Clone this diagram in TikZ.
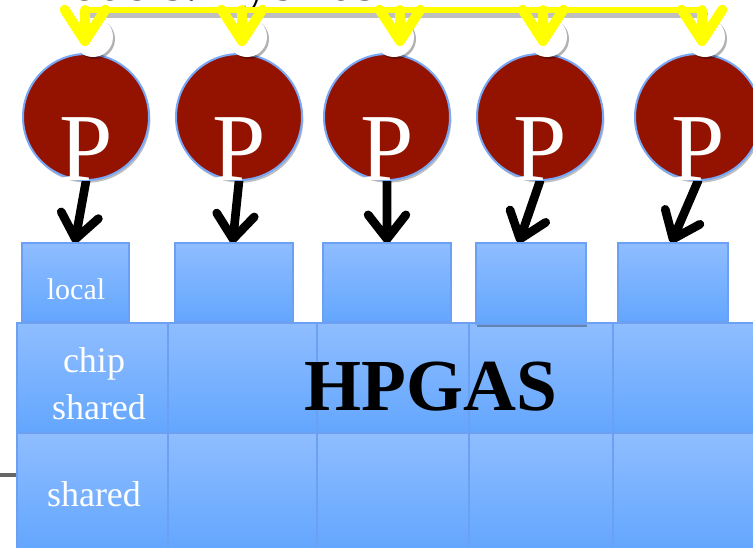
\documentclass[tikz,border=0pt]{standalone}
\usepackage{fontspec}
\setmainfont{Liberation Serif}
\usetikzlibrary{shadows,calc}
\definecolor{cellTop}{RGB}{143,189,255}
\definecolor{cellBot}{RGB}{99,166,254}
\definecolor{cellEdge}{RGB}{108,160,242}
\definecolor{procRed}{RGB}{147,18,0}
\definecolor{procEdge}{RGB}{120,168,248}
\definecolor{busYellow}{RGB}{255,255,0}
\pgfdeclarelayer{wires}
\pgfsetlayers{wires,main}
\begin{document}
\begin{tikzpicture}[x=0.75pt,y=-0.75pt,
  cell/.style={draw=cellEdge, line width=1pt, top color=cellTop, bottom color=cellBot,
    inner sep=0, outer sep=0},
  proc/.style={circle, fill=procRed, draw=procEdge, line width=1.5pt, inner sep=0,
    minimum size=126*0.75pt,
    drop shadow={shadow xshift=1pt, shadow yshift=-2pt, opacity=.25, fill=black}},
  port/.style={circle, fill=white, inner sep=0, minimum size=40*0.75pt,
    drop shadow={shadow xshift=1.5pt, shadow yshift=-1.5pt, opacity=.3, fill=black}},
  plabel/.style={anchor=base, inner sep=0, text=white, font=\fontsize{72}{72}\selectfont},
  celltext/.style={anchor=base, inner sep=0, text=white},
  memarrow/.style={draw=black, line width=6.5pt, line cap=round, line join=round},
  busline/.style={draw=busYellow, line width=5pt, line cap=round},
  busarrow/.style={draw=busYellow, line width=7.5pt, line cap=round, line join=round},
  busshadow/.style={draw=black, opacity=.25, line width=6pt, line cap=round},
]
\useasboundingbox (0,0) rectangle (753,547);
\clip (0,0) rectangle (753,547);

% heading line running off the top edge
\node[anchor=base west, inner sep=0, font=\fontsize{40}{40}\selectfont] (title) at (-28,0.8) {of models: hybrids};

% grey rule entering from the left
\coordinate (gl) at (0,475);

% shared and chip-shared rows
\foreach \n/\cx/\w in {1/92.5/151, 2/242.5/149, 3/393/152, 4/541/144, 5/686.5/147} {
  \node[cell, minimum width=\w*0.75pt, minimum height=117*0.75pt] (s\n) at (\cx,491.5) {};
  \node[cell, minimum width=\w*0.75pt, minimum height=110*0.75pt] (m\n) at (\cx,378) {};
}
\begin{pgfonlayer}{wires}
  \draw[draw=black!60, line width=2.5pt] (gl) -- (gl -| s1.west);
\end{pgfonlayer}

% local memories
\foreach \n/\cx/\w in {1/75.5/107, 2/234/118, 3/387/128, 5/673/110} {
  \node[cell, minimum width=\w*0.75pt, minimum height=79*0.75pt] (b\n) at (\cx,282.5) {};
}
\node[cell, minimum width=110*0.75pt, minimum height=81*0.75pt,
  drop shadow={shadow xshift=1pt, shadow yshift=-2pt, opacity=.3, fill=black}] (b4) at (531,283.5) {};

% labels
\node[celltext, font=\fontsize{22.5}{22.5}\selectfont] (tlocal) at (76,299) {local};
\node[celltext, font=\fontsize{27}{27}\selectfont] (tchip) at (94,372) {chip};
\node[celltext, font=\fontsize{27}{27}\selectfont] (tcshared) at (99,419) {shared};
\node[celltext, font=\fontsize{27}{27}\selectfont] (tshared) at (94,506) {shared};
\node[anchor=base, inner sep=0, font=\fontsize{55}{55}\selectfont\bfseries] (hpgas) at (431,410) {HPGAS};

% processors
\foreach \n/\cx in {1/86, 2/239, 3/387, 4/540, 5/698} {
  \node[proc] (p\n) at (\cx,117) {};
  \node[plabel] (pl\n) at (\cx,180) {P};
}

% processor to local memory, with open arrowheads
\begin{pgfonlayer}{wires}
\foreach \n/\dx in {1/0, 2/-1, 3/0, 4/-11, 5/0} {
  \coordinate (e\n) at ($(b\n.north)+(\dx,-4)$);
  \draw[memarrow] (p\n.south) -- (e\n)
    ($(e\n)!23pt!38:(p\n.south)$) -- (e\n) -- ($(e\n)!23pt!-38:(p\n.south)$);
}
\end{pgfonlayer}

% ports on top of each processor
\foreach \n/\cx in {1/93, 2/247, 3/394, 4/547, 5/705} {
  \node[port] (w\n) at (\cx,37) {};
}

% yellow bus feeding every processor
\foreach \n/\cx in {1/85, 2/242, 3/400, 4/543, 5/702} {
  \coordinate (y\n) at (\cx,10);
  \coordinate (t\n) at (\cx,41);
}
\draw[busshadow] ($(y1)+(2,4)$) -- ($(y5)+(2,4)$);
\draw[busline] (y1) -- (y5);
\foreach \n in {1,...,5} {
  \draw[busarrow] (y\n) -- (t\n)
    ($(t\n)!28pt!33:(y\n)$) -- (t\n) -- ($(t\n)!28pt!-33:(y\n)$);
}
\end{tikzpicture}
\end{document}
